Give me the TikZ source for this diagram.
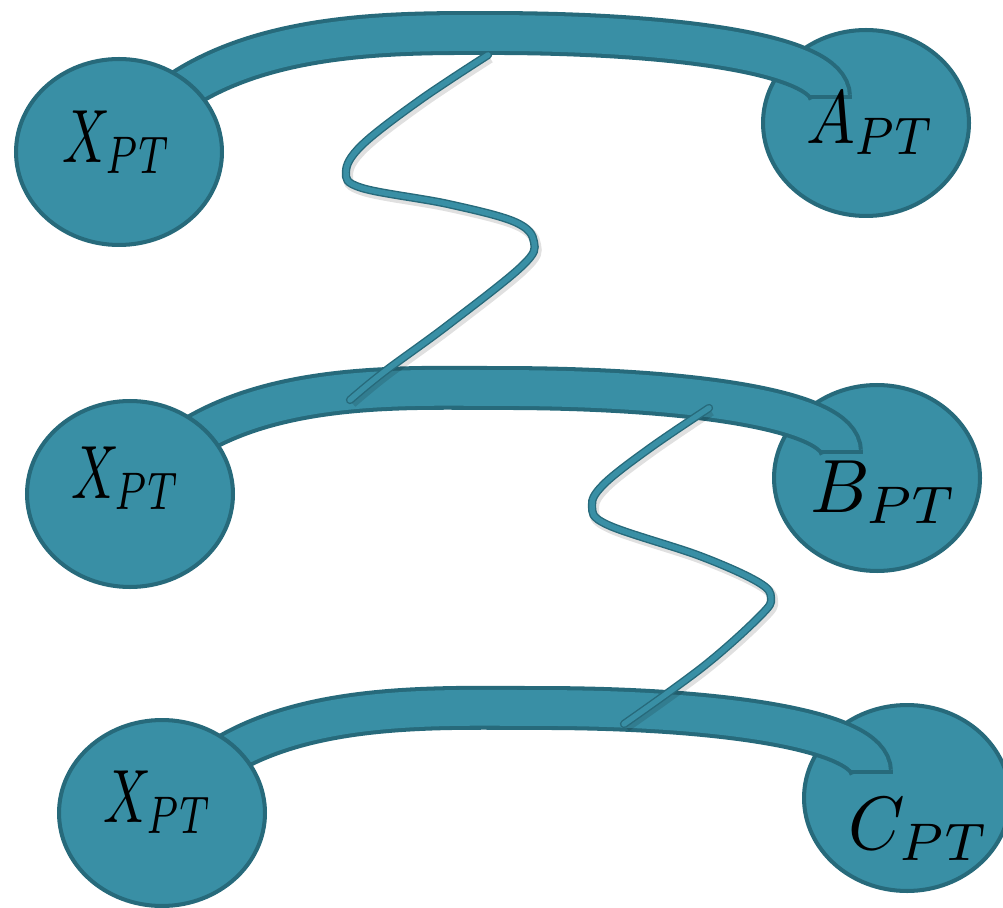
\documentclass[tikz,border=0pt]{standalone}
\usepackage{graphicx}
\usetikzlibrary{shapes.geometric,calc,backgrounds}
\definecolor{petrol}{HTML}{398FA5}
\definecolor{petroldark}{HTML}{276A7B}
\newcommand{\biglbl}[2][4.3]{\scalebox{#1}[4.3]{$#2$}}
\tikzset{
  ell/.style={ellipse,draw=petroldark,fill=petrol,line width=2.3pt,
    minimum width=4.12cm,minimum height=3.72cm,inner sep=0pt},
  lbl/.style={inner sep=0pt},
  band/.style={draw=petroldark,line width=2.3pt,double=petrol,double distance=20.4pt},
  bandcap/.style={draw=petroldark,line width=2.3pt},
  wave/.style={draw=petroldark,line width=0.8pt,double=petrol,double distance=3.1pt,
    line cap=round,preaction={draw=black,draw opacity=0.12,line width=5.8pt,
    transform canvas={shift={(2,3)}}}},
}

\begin{document}
\begin{tikzpicture}[x=0.02cm,y=-0.02cm]
  \useasboundingbox (0,0) rectangle (1003,908);
  % left ellipses (over the bands)
  \node[ell] (x1) at (119,152) {};
  \node[ell] (x2) at (130,494) {};
  \node[ell] (x3) at (162,813) {};
  \begin{pgfonlayer}{background}
    \node[ell] (a) at (866,123) {};
    \node[ell] (b) at (877,478) {};
    \node[ell] (c) at (907,798) {};
    \coordinate (ta) at ($(a)+(-36,-26)$);
    \coordinate (tb) at ($(b)+(-36,-26)$);
    \coordinate (tc) at ($(c)+(-36,-26)$);
    \draw[band] (x1.center) .. controls (200,30) and (380,33) .. (490,33)
      .. controls (680,33) and (830,55) .. (ta);
    \draw[band] (x2.center) .. controls (215,378) and (390,388) .. (500,388)
      .. controls (690,388) and (841,410) .. (tb);
    \draw[band] (x3.center) .. controls (245,698) and (420,708) .. (540,708)
      .. controls (720,708) and (871,730) .. (tc);
    \draw[bandcap] ($(ta)+(-22,0)$) -- ($(ta)+(22,0)$);
    \draw[bandcap] ($(tb)+(-22,0)$) -- ($(tb)+(22,0)$);
    \draw[bandcap] ($(tc)+(-22,0)$) -- ($(tc)+(22,0)$);
  \end{pgfonlayer}
  \node[lbl] (lx1) at (117,142) {\biglbl[3.0]{X_{PT}}};
  \node[lbl] (lx2) at (126,478) {\biglbl[3.0]{X_{PT}}};
  \node[lbl] (lx3) at (158,802) {\biglbl[3.0]{X_{PT}}};
  \node[lbl] (la) at (871,123) {\biglbl[3.7]{A_{PT}}};
  \node[lbl] (lb) at (884,492) {\biglbl[4.2]{B_{PT}}};
  \node[lbl] (lc) at (919,829) {\biglbl[4.1]{C_{PT}}};
  % wavy links between the bands
  \coordinate (w1a) at (488,55);
  \coordinate (w1b) at (350,400);
  \coordinate (w2a) at (709,408);
  \coordinate (w2b) at (624,724);
  \draw[wave] plot[smooth,tension=0.6] coordinates {(w1a) (420,100) (362,145)
    (346,172) (362,188) (448,204) (515,222) (534,242) (522,266) (448,325)
    (384,372) (w1b)};
  \draw[wave] plot[smooth,tension=0.6] coordinates {(w2a) (650,448) (604,484)
    (592,506) (608,525) (700,556) (758,582) (771,598) (760,616) (704,666)
    (w2b)};
\end{tikzpicture}
\end{document}
